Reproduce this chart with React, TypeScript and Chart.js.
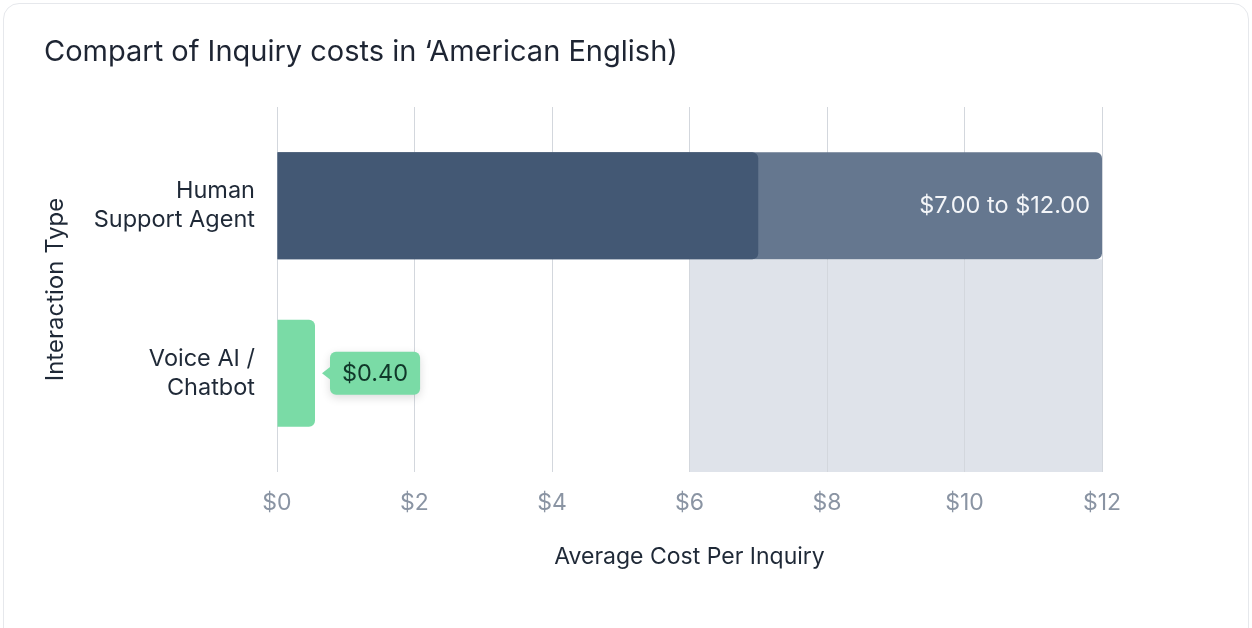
import { useEffect, useRef } from 'react';
import { Chart, registerables } from 'chart.js';

Chart.register(...registerables);

const titleText = 'Compart of Inquiry costs in \u2018American English)';
const categories = [['Human', 'Support Agent'], ['Voice AI /', 'Chatbot']];
const lowCost = [7, 0.4];
const highCost: (number | null)[] = [12, null];
const xTickValues = [0, 2, 4, 6, 8, 10, 12];
const shadedRange = [6, 12];
const xTitle = 'Average Cost Per Inquiry';
const yTitle = 'Interaction Type';

const FONT = 'Inter, "Noto Sans", sans-serif';
const DARK = '#435874';
const LIGHT = '#65778f';
const GREEN = '#7adba6';
const SHADE = '#dfe3ea';

const money = (v: number) => '$' + v.toFixed(2);

const annotatePlugin = {
  id: 'annotate',
  beforeDraw(chart: any) {
    const { ctx, chartArea, scales } = chart;
    const lightBar = chart.getDatasetMeta(1).data[0];
    if (!lightBar) return;
    const x0 = scales.x.getPixelForValue(shadedRange[0]);
    const x1 = scales.x.getPixelForValue(shadedRange[1]);
    const top = lightBar.y + lightBar.height / 2;
    ctx.save();
    ctx.fillStyle = SHADE;
    ctx.fillRect(x0, top, x1 - x0, chartArea.bottom - top);
    ctx.restore();
  },
  afterDatasetsDraw(chart: any) {
    const { ctx } = chart;
    const lightBar = chart.getDatasetMeta(1).data[0];
    const greenBar = chart.getDatasetMeta(0).data[1];
    ctx.save();
    if (lightBar && highCost[0] !== null) {
      ctx.font = `400 23.5px ${FONT}`;
      ctx.fillStyle = '#f3f5f8';
      ctx.textAlign = 'right';
      ctx.textBaseline = 'middle';
      ctx.fillText(`${money(lowCost[0])} to ${money(highCost[0] as number)}`, lightBar.x - 12, lightBar.y);
    }
    if (greenBar) {
      const text = money(lowCost[1]);
      ctx.font = `400 23.5px ${FONT}`;
      const tw = ctx.measureText(text).width;
      const left = greenBar.x + 15;
      const w = tw + 24;
      const h = 43;
      const cy = greenBar.y;
      const top = cy - h / 2;
      ctx.save();
      ctx.shadowColor = 'rgba(0,0,0,0.14)';
      ctx.shadowBlur = 10;
      ctx.shadowOffsetY = 3;
      ctx.fillStyle = GREEN;
      ctx.beginPath();
      ctx.roundRect(left, top, w, h, 6);
      ctx.fill();
      ctx.restore();
      ctx.fillStyle = GREEN;
      ctx.beginPath();
      ctx.moveTo(left + 1, cy - 7);
      ctx.lineTo(left - 8, cy);
      ctx.lineTo(left + 1, cy + 7);
      ctx.closePath();
      ctx.fill();
      ctx.fillStyle = '#10382a';
      ctx.textAlign = 'center';
      ctx.textBaseline = 'middle';
      ctx.fillText(text, left + w / 2, cy + 1);
    }
    ctx.restore();
  },
};

export default function App() {
  const ref = useRef<HTMLCanvasElement | null>(null);

  useEffect(() => {
    if (!ref.current) return;
    const chart = new Chart(ref.current, {
      type: 'bar',
      data: {
        datasets: [
          {
            label: 'Low',
            data: categories.map((_, i) => ({ x: lowCost[i], y: i })),
            backgroundColor: [DARK, GREEN],
            borderRadius: 6,
            borderSkipped: 'start',
            grouped: false,
            minBarLength: 38,
            categoryPercentage: 1,
            barPercentage: 0.64,
          } as any,
          {
            label: 'High',
            data: highCost
              .map((v, i) => ({ x: v, y: i }))
              .filter((d) => d.x !== null),
            backgroundColor: LIGHT,
            borderRadius: 6,
            borderSkipped: 'start',
            grouped: false,
            categoryPercentage: 1,
            barPercentage: 0.64,
          } as any,
        ],
      },
      options: {
        indexAxis: 'y',
        animation: false,
        responsive: false,
        devicePixelRatio: 1,
        layout: { padding: { left: 44, right: 150, top: 0, bottom: 40 } },
        plugins: {
          legend: { display: false },
          tooltip: { enabled: false },
          title: {
            display: true,
            text: titleText,
            align: 'start',
            color: '#1e2533',
            font: { family: FONT, size: 29, weight: 400 as any, lineHeight: 1.2 },
            padding: { top: 34.6, bottom: 37.6 },
          },
        },
        scales: {
          x: {
            type: 'linear',
            min: 0,
            max: 12,
            bounds: 'data',
            afterBuildTicks: (s: any) => {
              s.ticks = xTickValues.map((v) => ({ value: v }));
            },
            afterFit: (s: any) => {
              s.height = 116;
            },
            grid: { color: '#d3d7dd', lineWidth: 1, drawTicks: false, tickLength: 0 },
            border: { display: false },
            ticks: {
              color: '#8a94a3',
              font: { family: FONT, size: 23 },
              padding: 17,
              callback: (v: any) => '$' + v,
            },
            title: {
              display: true,
              text: xTitle,
              color: '#1f2937',
              font: { family: FONT, size: 23, lineHeight: 1.2 },
              padding: { top: 0, bottom: 17 },
            },
          },
          y: {
            type: 'linear',
            reverse: true,
            offset: false,
            min: -0.59,
            max: 1.59,
            bounds: 'data',
            afterBuildTicks: (s: any) => {
              s.ticks = categories.map((_, i) => ({ value: i }));
            },
            afterFit: (s: any) => {
              s.width = 233;
            },
            grid: { display: false, drawTicks: false, tickLength: 0 },
            border: { display: false },
            ticks: {
              color: '#1f2937',
              font: { family: FONT, size: 23.5, lineHeight: 1.23 },
              padding: 22,
              callback: (v: any) => categories[v as number] as any,
            },
            title: {
              display: true,
              text: yTitle,
              color: '#1f2937',
              font: { family: FONT, size: 24, lineHeight: 1 },
              padding: { top: 0, bottom: 0 },
            },
          },
        },
      } as any,
      plugins: [annotatePlugin],
    });
    return () => chart.destroy();
  }, []);

  return (
    <div
      style={{
        position: 'fixed',
        left: 0,
        top: 0,
        width: 1252,
        height: 628,
        overflow: 'hidden',
        background: '#ffffff',
      }}
    >
      <div
        style={{
          position: 'absolute',
          left: 3,
          top: 3,
          width: 1244,
          height: 700,
          border: '1px solid #e6e8ec',
          borderRadius: 16,
          background: '#ffffff',
        }}
      />
      <canvas
        ref={ref}
        width={1252}
        height={628}
        style={{ position: 'absolute', left: 0, top: 0, width: 1252, height: 628 }}
      />
    </div>
  );
}
